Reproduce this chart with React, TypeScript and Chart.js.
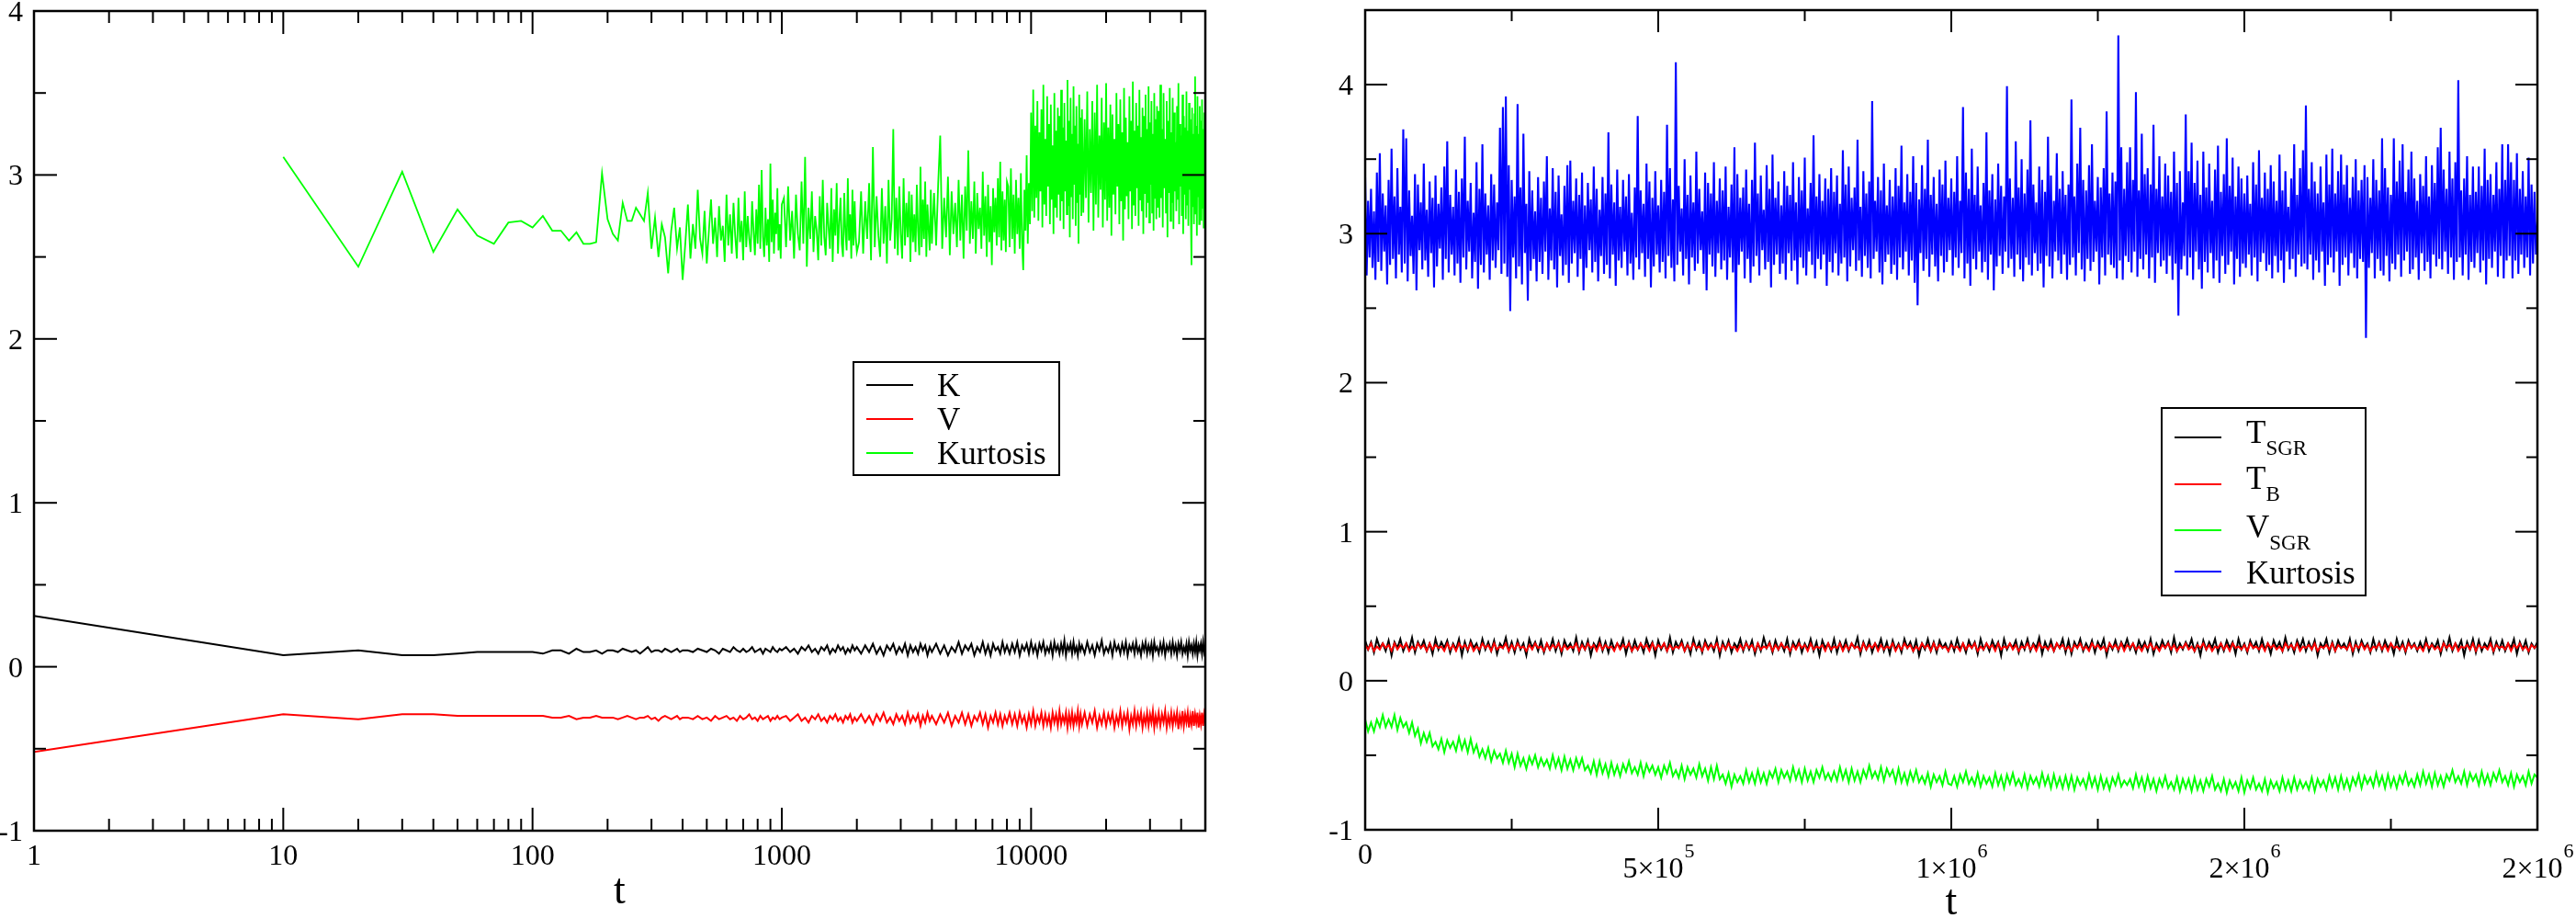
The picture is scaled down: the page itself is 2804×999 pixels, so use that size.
import React, { useEffect, useRef } from "react";
import { Chart, registerables } from "chart.js";

Chart.register(...registerables);

const SERIF = '"Liberation Serif", "Times New Roman", Times, "DejaVu Serif", serif';

// ================= LEFT PANEL DATA (log t axis) =================
// sampling grids of t: [start, end, step]
const T_SEGMENTS_KV: [number, number, number][] = [
  [1, 1, 1], [10, 400, 10], [420, 1000, 20], [1040, 2000, 40], [2080, 4000, 80],
  [4160, 8000, 160], [8200, 16000, 200], [16400, 32000, 400], [32500, 50000, 500],
];
const T_SEGMENTS_KURT: [number, number, number][] = [
  [10, 400, 10], [410, 1000, 10], [1020, 2000, 20], [2040, 4000, 40],
  [4080, 8000, 80], [8100, 16000, 100], [16200, 32000, 200], [32250, 50000, 250],
];

const K_LEFT: number[] = [
  0.31,
  0.07, 0.10, 0.07, 0.07, 0.08, 0.09, 0.09, 0.09, 0.09, 0.09, 0.08, 0.10, 0.10, 0.08, 0.11, 0.09, 0.09, 0.10, 0.08, 0.10,
  0.10, 0.09, 0.11, 0.10, 0.09, 0.10, 0.08, 0.10, 0.12, 0.09, 0.10, 0.10, 0.09, 0.11, 0.10, 0.09, 0.10, 0.11, 0.09, 0.10,
  0.10, 0.09, 0.11, 0.10, 0.09, 0.11, 0.10, 0.08, 0.11, 0.10, 0.09, 0.12, 0.10, 0.09, 0.11, 0.09, 0.10, 0.12, 0.09, 0.10,
  0.11, 0.08, 0.11, 0.10, 0.09, 0.12, 0.10, 0.09, 0.11, 0.10,
  0.12, 0.09, 0.11, 0.08, 0.12, 0.10, 0.13, 0.09, 0.11, 0.08, 0.12, 0.10, 0.13, 0.08, 0.11, 0.09, 0.13, 0.10, 0.12, 0.08,
  0.11, 0.09, 0.13, 0.10, 0.12,
  0.08, 0.13, 0.09, 0.14, 0.08, 0.12, 0.07, 0.13, 0.10, 0.14, 0.08, 0.12, 0.09, 0.14, 0.07, 0.13, 0.09, 0.12, 0.08, 0.14,
  0.10, 0.13, 0.07, 0.12, 0.09,
  0.14, 0.08, 0.13, 0.07, 0.12, 0.09, 0.15, 0.08, 0.13, 0.10, 0.14, 0.07, 0.12, 0.09, 0.15, 0.08, 0.13, 0.07, 0.14, 0.10,
  0.12, 0.08, 0.15, 0.09, 0.13,
  0.08, 0.14, 0.09, 0.15, 0.07, 0.13, 0.10, 0.14, 0.08, 0.15, 0.09, 0.13, 0.07, 0.14, 0.10, 0.15, 0.08, 0.12, 0.09, 0.14,
  0.07, 0.15, 0.10, 0.13, 0.08, 0.14, 0.09, 0.16, 0.07, 0.13, 0.10, 0.14, 0.08, 0.15, 0.09, 0.12, 0.07, 0.14, 0.10, 0.13,
  0.08, 0.15, 0.09, 0.13, 0.07, 0.14, 0.10, 0.16, 0.08, 0.12, 0.09, 0.14, 0.07, 0.15, 0.10, 0.13, 0.08, 0.14, 0.09, 0.15,
  0.07, 0.13, 0.10, 0.14, 0.08, 0.15, 0.09, 0.12, 0.07, 0.14, 0.10, 0.15, 0.08, 0.13, 0.09, 0.14, 0.07, 0.15, 0.10, 0.12,
  0.08, 0.14, 0.09, 0.15, 0.07, 0.13, 0.10, 0.14, 0.08, 0.15, 0.09, 0.13, 0.07, 0.14, 0.10, 0.15, 0.08, 0.12, 0.09, 0.14,
  0.07, 0.15, 0.10, 0.13, 0.08, 0.14, 0.09, 0.15, 0.07, 0.13, 0.10, 0.14, 0.08, 0.15, 0.09, 0.12,
];

const V_LEFT: number[] = [
  -0.52,
  -0.29, -0.32, -0.29, -0.29, -0.30, -0.30, -0.30, -0.30, -0.30, -0.30, -0.30, -0.31, -0.31, -0.30, -0.32, -0.31, -0.31, -0.30, -0.31, -0.31,
  -0.31, -0.32, -0.31, -0.30, -0.31, -0.32, -0.31, -0.31, -0.30, -0.32, -0.31, -0.33, -0.31, -0.30, -0.31, -0.32, -0.31, -0.30, -0.32, -0.31,
  -0.31, -0.32, -0.30, -0.32, -0.31, -0.33, -0.30, -0.32, -0.31, -0.30, -0.32, -0.31, -0.33, -0.30, -0.32, -0.31, -0.29, -0.32, -0.31, -0.33,
  -0.30, -0.32, -0.31, -0.30, -0.33, -0.31, -0.32, -0.30, -0.32, -0.31,
  -0.30, -0.33, -0.31, -0.29, -0.33, -0.31, -0.34, -0.30, -0.32, -0.29, -0.33, -0.31, -0.34, -0.30, -0.32, -0.29, -0.33, -0.31, -0.34, -0.30,
  -0.32, -0.29, -0.34, -0.31, -0.33,
  -0.29, -0.34, -0.30, -0.35, -0.29, -0.33, -0.28, -0.34, -0.31, -0.35, -0.29, -0.33, -0.30, -0.35, -0.28, -0.34, -0.30, -0.33, -0.29, -0.36,
  -0.30, -0.34, -0.28, -0.33, -0.30,
  -0.35, -0.29, -0.34, -0.28, -0.36, -0.30, -0.34, -0.28, -0.35, -0.29, -0.36, -0.30, -0.33, -0.28, -0.35, -0.29, -0.37, -0.30, -0.34, -0.28,
  -0.35, -0.29, -0.36, -0.30, -0.34,
  -0.28, -0.35, -0.29, -0.36, -0.28, -0.34, -0.30, -0.37, -0.29, -0.35, -0.27, -0.36, -0.30, -0.34, -0.28, -0.36, -0.29, -0.35, -0.30, -0.37,
  -0.28, -0.34, -0.29, -0.36, -0.27, -0.35, -0.30, -0.34, -0.28, -0.37, -0.29, -0.35, -0.28, -0.36, -0.30, -0.34, -0.27, -0.36, -0.29, -0.35,
  -0.28, -0.36, -0.29, -0.34, -0.27, -0.37, -0.30, -0.35, -0.28, -0.36, -0.29, -0.34, -0.28, -0.37, -0.30, -0.35, -0.27, -0.36, -0.29, -0.34,
  -0.28, -0.38, -0.30, -0.35, -0.27, -0.36, -0.29, -0.34, -0.28, -0.37, -0.30, -0.35, -0.28, -0.36, -0.29, -0.34, -0.27, -0.37, -0.30, -0.35,
  -0.28, -0.36, -0.29, -0.34, -0.27, -0.37, -0.30, -0.35, -0.28, -0.36, -0.29, -0.34, -0.28, -0.38, -0.30, -0.35, -0.27, -0.36, -0.29, -0.34,
  -0.28, -0.37, -0.30, -0.35, -0.27, -0.36, -0.29, -0.34, -0.28, -0.37, -0.30, -0.35, -0.28, -0.36, -0.29, -0.33,
];

const KURT_LEFT: number[] = [
  // t = 10 .. 400
  3.11, 2.44, 3.02, 2.53, 2.79, 2.63, 2.58, 2.71, 2.72, 2.68, 2.75, 2.66, 2.66, 2.60, 2.65, 2.58, 2.58, 2.59, 3.01, 2.73,
  2.64, 2.60, 2.83, 2.72, 2.72, 2.80, 2.76, 2.72, 2.89, 2.55, 2.74, 2.50, 2.70, 2.62, 2.40, 2.66, 2.80, 2.55, 2.68, 2.36,
  // t = 410 .. 1000
  2.58, 2.82, 2.49, 2.70, 2.55, 2.91, 2.61, 2.52, 2.78, 2.46, 2.66, 2.85, 2.58, 2.74, 2.50, 2.81, 2.60, 2.69, 2.47, 2.88,
  2.57, 2.76, 2.52, 2.83, 2.63, 2.49, 2.86, 2.59, 2.72, 2.48, 2.90, 2.56, 2.75, 2.61, 2.53, 2.84, 2.66, 2.51, 2.79, 2.58,
  2.94, 2.55, 3.03, 2.62, 2.50, 2.80, 2.57, 2.73, 2.47, 3.07, 2.59, 2.85, 2.52, 2.77, 2.64, 2.92, 2.54, 2.70, 2.49, 2.82,
  // t = 1020 .. 2000
  2.86, 2.56, 2.93, 2.60, 2.78, 2.49, 2.88, 2.64, 2.54, 2.96, 2.58, 3.11, 2.44, 2.80, 2.61, 2.90, 2.53, 2.75, 2.66, 2.48,
  2.87, 2.57, 2.97, 2.62, 2.51, 2.83, 2.68, 2.55, 2.92, 2.47, 2.79, 2.63, 2.95, 2.52, 2.71, 2.86, 2.58, 2.50, 2.89, 2.65,
  2.54, 2.98, 2.60, 2.76, 2.49, 2.91, 2.57, 2.84, 2.62, 2.53,
  // t = 2040 .. 4000
  2.59, 2.90, 2.52, 2.84, 2.61, 2.95, 2.48, 3.17, 2.56, 2.87, 2.63, 2.50, 2.92, 2.58, 2.81, 2.46, 2.97, 2.60, 2.73, 3.28,
  2.55, 2.86, 2.51, 2.93, 2.64, 2.49, 2.98, 2.57, 2.83, 2.62, 2.90, 2.47, 2.88, 2.59, 2.76, 2.53, 2.94, 2.66, 2.51, 3.05,
  2.56, 2.85, 2.61, 2.96, 2.50, 2.82, 2.67, 2.54, 2.91, 2.58,
  // t = 4080 .. 8000
  2.89, 2.57, 2.95, 3.24, 2.55, 2.86, 2.62, 2.99, 2.51, 2.90, 2.64, 2.83, 2.56, 2.97, 2.60, 2.88, 2.49, 2.93, 2.66, 3.15,
  2.58, 2.84, 2.61, 2.96, 2.52, 2.89, 2.67, 2.80, 2.55, 3.02, 2.63, 2.87, 2.50, 2.94, 2.59, 2.81, 2.45, 2.92, 2.65, 2.86,
  2.57, 2.98, 2.62, 3.08, 2.54, 2.90, 2.60, 2.85, 2.53, 2.96,
  // t = 8100 .. 16000
  2.93, 2.56, 3.04, 2.61, 2.88, 2.52, 2.97, 2.64, 2.86, 2.55, 3.01, 2.59, 2.42, 2.91, 2.66, 3.12, 2.58, 2.95, 2.70, 3.38,
  2.78, 3.52, 2.74, 3.30, 2.86, 3.45, 2.72, 3.26, 2.90, 3.40, 2.68, 3.55, 2.82, 3.22, 2.75, 3.48, 2.93, 3.31, 2.70, 3.43,
  2.85, 3.18, 2.64, 3.50, 2.80, 3.27, 2.74, 3.41, 2.88, 3.36, 2.72, 3.52, 2.84, 3.29, 2.67, 3.44, 2.90, 3.21, 2.76, 3.58,
  2.81, 3.33, 2.62, 3.47, 2.87, 3.25, 2.73, 3.54, 2.94, 3.30, 2.69, 3.42, 2.83, 3.19, 2.58, 3.49, 2.88, 3.35, 2.75, 3.40,
  // t = 16200 .. 32000
  2.77, 3.34, 2.86, 3.51, 2.71, 3.28, 2.89, 3.45, 2.66, 3.38, 2.82, 3.55, 2.74, 3.24, 2.91, 3.47, 2.68, 3.32, 2.85, 3.56,
  2.72, 3.29, 2.80, 3.43, 2.63, 3.37, 2.88, 3.22, 2.76, 3.50, 2.93, 3.31, 2.70, 3.46, 2.84, 3.26, 2.60, 3.53, 2.79, 3.35,
  2.87, 3.20, 2.73, 3.48, 2.90, 3.33, 2.67, 3.57, 2.82, 3.27, 2.75, 3.44, 2.92, 3.30, 2.69, 3.52, 2.85, 3.23, 2.78, 3.41,
  2.64, 3.36, 2.89, 3.49, 2.74, 3.28, 2.83, 3.54, 2.71, 3.32, 2.94, 3.45, 2.77, 3.25, 2.66, 3.50, 2.86, 3.34, 2.73, 3.42,
  // t = 32250 .. 50000
  2.80, 3.39, 2.74, 3.55, 2.86, 3.28, 2.68, 3.50, 2.92, 3.22, 2.77, 3.45, 2.62, 3.33, 2.89, 3.53, 2.72, 3.26, 2.83, 3.47,
  2.67, 3.38, 2.90, 3.20, 2.78, 3.42, 2.85, 3.56, 2.70, 3.31, 2.93, 3.24, 2.75, 3.49, 2.64, 3.36, 2.88, 3.29, 2.73, 3.51,
  2.82, 3.27, 2.69, 3.44, 2.91, 3.34, 2.76, 2.45, 3.41, 2.81, 3.25, 2.70, 3.37, 3.60, 2.76, 3.30, 2.63, 3.48, 2.87, 3.25,
  2.70, 3.42, 2.84, 3.33, 2.72, 3.46, 2.80, 3.28, 2.68, 3.38, 2.95, 3.20,
];

const LEFT_X_MAJOR = [1, 10, 100, 1000, 10000];
const LEFT_X_LABELS = ["1", "10", "100", "1000", "10000"];
const LEFT_X_MINOR = [
  2, 3, 4, 5, 6, 7, 8, 9,
  20, 30, 40, 50, 60, 70, 80, 90,
  200, 300, 400, 500, 600, 700, 800, 900,
  2000, 3000, 4000, 5000, 6000, 7000, 8000, 9000,
  20000, 30000, 40000,
];
const LEFT_Y_MAJOR = [-1, 0, 1, 2, 3, 4];
const LEFT_Y_LABELS = ["-1", "0", "1", "2", "3", "4"];
const LEFT_Y_MINOR = [-0.5, 0.5, 1.5, 2.5, 3.5];
const LEFT_LEGEND: [string, string][] = [["K", ""], ["V", ""], ["Kurtosis", ""]];

// ================= RIGHT PANEL DATA (linear t axis) =================
const RIGHT_STEP_KURT = 2500; // sampling step of the Kurtosis series
const RIGHT_STEP = 5000; // sampling step of the other series

const KURT_RIGHT: number[] = [
  3.38, 2.72, 3.22, 2.84, 3.30, 2.77, 3.15, 2.69, 3.41, 2.81, 3.54, 2.75, 3.27, 2.88, 3.19, 2.66, 3.36, 2.79, 3.57, 2.83,
  3.25, 2.70, 3.44, 2.86, 3.18, 2.74, 3.70, 2.80, 3.64, 2.68, 3.29, 2.85, 3.12, 2.73, 3.40, 2.62, 3.33, 2.89, 3.21, 2.76,
  3.47, 2.82, 3.16, 2.71, 3.35, 2.87, 3.24, 2.64, 3.39, 2.78, 3.20, 2.90, 3.31, 2.69, 3.45, 2.83, 3.62, 2.74, 3.26, 2.86,
  3.18, 2.72, 3.43, 2.80, 3.28, 2.67, 3.37, 2.84, 3.65, 2.76, 3.22, 2.88, 3.34, 2.70, 3.14, 2.81, 3.48, 2.63, 3.30, 2.79,
  3.60, 2.74, 3.27, 2.86, 3.19, 2.69, 3.40, 2.82, 3.33, 2.77, 3.21, 2.89, 3.71, 2.73, 3.85, 2.80, 3.92, 2.71, 3.46, 2.48,
  3.36, 2.84, 3.25, 2.70, 3.87, 2.78, 3.31, 2.66, 3.67, 2.87, 3.20, 2.55, 3.42, 2.75, 3.29, 2.83, 3.15, 2.68, 3.38, 2.81,
  3.24, 2.73, 3.35, 2.88, 3.52, 2.69, 3.17, 2.82, 3.44, 2.76, 3.28, 2.64, 3.39, 2.85, 3.13, 2.72, 3.32, 2.79, 3.46, 2.67,
  3.49, 2.80, 3.22, 2.87, 3.37, 2.71, 3.26, 2.83, 3.41, 2.62, 3.19, 2.77, 3.34, 2.89, 3.23, 2.74, 3.45, 2.81, 3.30, 2.68,
  3.16, 2.85, 3.38, 2.73, 3.27, 2.79, 3.68, 2.70, 3.33, 2.86, 3.21, 2.65, 3.43, 2.82, 3.18, 2.77, 3.36, 2.88, 3.25, 2.72,
  3.40, 2.80, 3.14, 2.69, 3.31, 2.84, 3.79, 2.76, 3.29, 2.87, 3.20, 2.71, 3.47, 2.83, 3.35, 2.64, 3.24, 2.78, 3.42, 2.86,
  3.19, 2.74, 3.36, 2.81, 3.28, 2.70, 3.73, 2.85, 3.44, 2.77, 3.23, 2.68, 4.15, 2.79, 3.32, 2.88, 3.17, 2.72, 3.50, 2.83,
  3.26, 2.66, 3.39, 2.84, 3.21, 2.75, 3.55, 2.80, 3.30, 2.89, 3.15, 2.73, 3.41, 2.62, 3.34, 2.86, 3.27, 2.78, 3.48, 2.71,
  3.22, 2.87, 3.37, 2.76, 3.29, 2.82, 3.45, 2.69, 3.18, 2.84, 3.33, 2.74, 3.58, 2.34, 3.40, 2.79, 3.24, 2.88, 3.31, 2.70,
  3.43, 2.83, 3.20, 2.67, 3.36, 2.78, 3.61, 2.85, 3.27, 2.72, 3.39, 2.89, 3.16, 2.76, 3.46, 2.81, 3.30, 2.64, 3.53, 2.79,
  3.24, 2.86, 3.35, 2.73, 3.19, 2.80, 3.42, 2.69, 3.32, 2.87, 3.26, 2.75, 3.48, 2.82, 3.21, 2.66, 3.38, 2.84, 3.29, 2.77,
  3.51, 2.72, 3.17, 2.88, 3.34, 2.79, 3.66, 2.70, 3.25, 2.83, 3.40, 2.76, 3.22, 2.86, 3.37, 2.65, 3.30, 2.81, 3.44, 2.74,
  3.28, 2.87, 3.39, 2.72, 3.20, 2.80, 3.56, 2.84, 3.33, 2.68, 3.45, 2.78, 3.24, 2.89, 3.31, 2.75, 3.63, 2.82, 3.18, 2.71,
  3.42, 2.85, 3.27, 2.77, 3.35, 2.70, 3.89, 2.83, 3.22, 2.88, 3.38, 2.74, 3.29, 2.66, 3.47, 2.81, 3.19, 2.86, 3.36, 2.73,
  3.25, 2.79, 3.44, 2.69, 3.32, 2.84, 3.59, 2.76, 3.21, 2.88, 3.40, 2.72, 3.28, 2.82, 3.52, 2.67, 3.34, 2.52, 3.23, 2.87,
  3.46, 2.75, 3.30, 2.83, 3.63, 2.71, 3.26, 2.86, 3.38, 2.78, 3.20, 2.68, 3.43, 2.85, 3.33, 2.74, 3.49, 2.81, 3.24, 2.89,
  3.37, 2.72, 3.28, 2.84, 3.52, 2.77, 3.22, 2.87, 3.85, 2.70, 3.41, 2.80, 3.30, 2.65, 3.57, 2.83, 3.26, 2.76, 3.45, 2.88,
  3.19, 2.74, 3.34, 2.81, 3.68, 2.69, 3.29, 2.86, 3.40, 2.62, 3.23, 2.78, 3.47, 2.85, 3.32, 2.73, 3.25, 2.88, 3.99, 2.77,
  3.37, 2.83, 3.24, 2.71, 3.62, 2.86, 3.31, 2.76, 3.50, 2.68, 3.27, 2.84, 3.43, 2.79, 3.76, 2.72, 3.33, 2.87, 3.21, 2.75,
  3.45, 2.80, 3.36, 2.64, 3.28, 2.85, 3.65, 2.78, 3.39, 2.70, 3.22, 2.88, 3.54, 2.82, 3.30, 2.73, 3.42, 2.86, 3.26, 2.69,
  3.33, 2.79, 3.90, 2.84, 3.25, 2.72, 3.47, 2.87, 3.71, 2.76, 3.36, 2.68, 3.29, 2.83, 3.46, 2.75, 3.60, 2.81, 3.22, 2.88,
  3.38, 2.66, 3.31, 2.84, 3.44, 2.72, 3.82, 2.86, 3.27, 2.79, 3.41, 2.77, 3.35, 2.70, 4.33, 2.82, 3.58, 2.69, 3.30, 2.85,
  3.48, 2.81, 3.58, 2.74, 3.36, 2.88, 3.95, 2.71, 3.29, 2.83, 3.67, 2.76, 3.40, 2.86, 3.44, 2.70, 3.33, 2.84, 3.73, 2.67,
  3.30, 2.87, 3.52, 2.78, 3.25, 2.82, 3.47, 2.73, 3.39, 2.85, 3.28, 2.69, 3.55, 2.80, 3.34, 2.45, 3.42, 2.76, 3.21, 2.85,
  3.80, 2.72, 3.42, 2.84, 3.61, 2.69, 3.34, 2.88, 3.49, 2.76, 3.26, 2.63, 3.55, 2.81, 3.31, 2.74, 3.47, 2.87, 3.22, 2.70,
  3.43, 2.82, 3.59, 2.67, 3.28, 2.85, 3.40, 2.73, 3.64, 2.79, 3.32, 2.88, 3.51, 2.66, 3.25, 2.83, 3.45, 2.71, 3.37, 2.80,
  3.27, 2.77, 3.39, 2.86, 3.20, 2.72, 3.48, 2.84, 3.33, 2.68, 3.56, 2.81, 3.24, 2.87, 3.41, 2.75, 3.30, 2.79, 3.46, 2.70,
  3.35, 2.85, 3.22, 2.74, 3.53, 2.82, 3.29, 2.67, 3.42, 2.88, 3.18, 2.76, 3.37, 2.83, 3.60, 2.71, 3.26, 2.86, 3.44, 2.78,
  3.56, 2.80, 3.86, 2.76, 3.30, 2.86, 3.48, 2.69, 3.35, 2.82, 3.27, 2.74, 3.45, 2.88, 3.21, 2.65, 3.53, 2.79, 3.33, 2.84,
  3.57, 2.74, 3.27, 2.88, 3.42, 2.65, 3.53, 2.79, 3.33, 2.84, 3.46, 2.72, 3.24, 2.87, 3.38, 2.77, 3.50, 2.70, 3.29, 2.83,
  3.36, 2.81, 3.46, 2.30, 3.38, 2.77, 3.24, 2.87, 3.50, 2.70, 3.36, 2.83, 3.29, 2.75, 3.64, 2.72, 3.44, 2.85, 3.31, 2.68,
  3.26, 2.80, 3.64, 2.76, 3.35, 2.86, 3.49, 2.71, 3.60, 2.82, 3.28, 2.88, 3.43, 2.73, 3.55, 2.76, 3.37, 2.84, 3.22, 2.69,
  3.40, 2.87, 3.32, 2.75, 3.52, 2.81, 3.25, 2.70, 3.46, 2.86, 3.34, 2.78, 3.58, 2.83, 3.71, 2.76, 3.43, 2.88, 3.30, 2.73,
  3.55, 2.84, 3.37, 2.69, 3.48, 2.81, 4.03, 2.84, 3.29, 2.72, 3.37, 2.86, 3.52, 2.69, 3.26, 2.81, 3.45, 2.77, 3.28, 2.87,
  3.45, 2.74, 3.32, 2.82, 3.57, 2.66, 3.36, 2.83, 3.40, 2.77, 3.26, 2.88, 3.48, 2.71, 3.30, 2.85, 3.60, 2.70, 3.36, 2.82,
  3.60, 2.85, 3.48, 2.70, 3.36, 2.82, 3.54, 2.73, 3.30, 2.86, 3.42, 2.77, 3.25, 2.84, 3.51, 2.72, 3.33, 2.80, 3.28, 2.86,
  3.08,
];

const TSGR_RIGHT: number[] = [
  0.27, 0.21, 0.26, 0.19, 0.28, 0.22, 0.25, 0.20, 0.27, 0.17, 0.26, 0.22, 0.28, 0.20, 0.25, 0.21, 0.29, 0.19, 0.26, 0.22,
  0.27, 0.20, 0.25, 0.18, 0.28, 0.21, 0.26, 0.22, 0.27, 0.19, 0.25, 0.21, 0.28, 0.17, 0.26, 0.20, 0.27, 0.22, 0.25, 0.19,
  0.28, 0.21, 0.26, 0.20, 0.27, 0.18, 0.25, 0.22, 0.29, 0.20, 0.26, 0.19, 0.27, 0.21, 0.25, 0.17, 0.28, 0.22, 0.26, 0.20,
  0.27, 0.19, 0.25, 0.21, 0.28, 0.20, 0.26, 0.18, 0.27, 0.22, 0.25, 0.20, 0.29, 0.19, 0.26, 0.21, 0.27, 0.17, 0.25, 0.22,
  0.28, 0.20, 0.26, 0.19, 0.27, 0.21, 0.25, 0.22, 0.28, 0.18, 0.26, 0.20, 0.27, 0.21, 0.25, 0.19, 0.28, 0.22, 0.26, 0.17,
  0.27, 0.21, 0.25, 0.20, 0.29, 0.19, 0.26, 0.22, 0.27, 0.20, 0.25, 0.18, 0.28, 0.21, 0.26, 0.19, 0.27, 0.22, 0.25, 0.20,
  0.28, 0.17, 0.26, 0.21, 0.27, 0.19, 0.25, 0.22, 0.28, 0.20, 0.26, 0.21, 0.27, 0.18, 0.25, 0.20, 0.29, 0.22, 0.26, 0.19,
  0.27, 0.21, 0.25, 0.20, 0.28, 0.18, 0.26, 0.22, 0.27, 0.19, 0.25, 0.21, 0.28, 0.20, 0.26, 0.17, 0.27, 0.22, 0.25, 0.20,
  0.28, 0.19, 0.26, 0.21, 0.27, 0.20, 0.25, 0.22, 0.29, 0.18, 0.26, 0.21, 0.27, 0.19, 0.25, 0.22, 0.28, 0.20, 0.26, 0.18,
  0.27, 0.21, 0.25, 0.19, 0.28, 0.22, 0.26, 0.20, 0.27, 0.17, 0.25, 0.21, 0.28, 0.20, 0.26, 0.19, 0.27, 0.22, 0.25, 0.20,
  0.26, 0.20, 0.28, 0.21, 0.25, 0.19, 0.27, 0.22, 0.26, 0.18, 0.28, 0.21, 0.25, 0.20, 0.27, 0.22, 0.26, 0.17, 0.28, 0.21,
  0.25, 0.22, 0.27, 0.19, 0.26, 0.21, 0.28, 0.20, 0.25, 0.22, 0.29, 0.18, 0.26, 0.21, 0.27, 0.20, 0.25, 0.22, 0.28, 0.19,
  0.27, 0.18, 0.26, 0.22, 0.28, 0.20, 0.25, 0.21, 0.27, 0.19, 0.26, 0.22, 0.28, 0.17, 0.25, 0.21, 0.27, 0.20, 0.26, 0.22,
  0.28, 0.21, 0.25, 0.19, 0.27, 0.22, 0.26, 0.20, 0.28, 0.18, 0.25, 0.21, 0.27, 0.22, 0.26, 0.19, 0.29, 0.20, 0.25, 0.21,
  0.26, 0.22, 0.28, 0.20, 0.25, 0.17, 0.27, 0.21, 0.26, 0.22, 0.28, 0.19, 0.25, 0.20, 0.27, 0.22, 0.26, 0.18, 0.28, 0.21,
  0.25, 0.19, 0.27, 0.22, 0.26, 0.20, 0.28, 0.21, 0.25, 0.18, 0.27, 0.22, 0.26, 0.20, 0.29, 0.21, 0.25, 0.19, 0.27, 0.22,
  0.28, 0.20, 0.26, 0.21, 0.27, 0.17, 0.25, 0.22, 0.28, 0.19, 0.26, 0.20, 0.27, 0.22, 0.25, 0.21, 0.28, 0.18, 0.26, 0.20,
  0.27, 0.22, 0.25, 0.19, 0.28, 0.21, 0.26, 0.20, 0.27, 0.22, 0.25, 0.18, 0.28, 0.21, 0.26, 0.19, 0.27, 0.22, 0.25, 0.20,
  0.26, 0.21, 0.28, 0.20, 0.25, 0.22, 0.27, 0.18, 0.26, 0.21, 0.29, 0.20, 0.25, 0.22, 0.27, 0.17, 0.26, 0.21, 0.28, 0.19,
  0.27, 0.20, 0.25, 0.22, 0.28, 0.19, 0.26, 0.21, 0.27, 0.20, 0.25, 0.22, 0.28, 0.18, 0.26, 0.21, 0.27, 0.19, 0.25, 0.22,
  0.26,
];

const TB_RIGHT: number[] = [
  0.24, 0.21, 0.25, 0.20, 0.23, 0.21, 0.25, 0.22, 0.24, 0.20, 0.25, 0.21, 0.24, 0.22, 0.25, 0.20, 0.23, 0.21, 0.25, 0.22,
  0.24, 0.20, 0.25, 0.21, 0.24, 0.22, 0.23, 0.20, 0.25, 0.21, 0.24, 0.20, 0.25, 0.22, 0.24, 0.21, 0.25, 0.20, 0.23, 0.21,
  0.25, 0.22, 0.24, 0.20, 0.25, 0.21, 0.23, 0.22, 0.25, 0.20, 0.24, 0.21, 0.25, 0.22, 0.23, 0.20, 0.24, 0.21, 0.25, 0.22,
  0.23, 0.20, 0.25, 0.21, 0.24, 0.22, 0.25, 0.20, 0.24, 0.21, 0.23, 0.22, 0.25, 0.20, 0.24, 0.21, 0.25, 0.22, 0.24, 0.20,
  0.25, 0.21, 0.24, 0.22, 0.23, 0.20, 0.25, 0.21, 0.24, 0.22, 0.25, 0.20, 0.23, 0.21, 0.25, 0.22, 0.24, 0.20, 0.25, 0.21,
  0.24, 0.22, 0.25, 0.20, 0.24, 0.21, 0.23, 0.22, 0.25, 0.20, 0.24, 0.21, 0.25, 0.22, 0.23, 0.20, 0.25, 0.21, 0.24, 0.22,
  0.25, 0.20, 0.24, 0.21, 0.25, 0.22, 0.23, 0.20, 0.24, 0.21, 0.25, 0.22, 0.24, 0.20, 0.25, 0.21, 0.23, 0.22, 0.25, 0.20,
  0.24, 0.21, 0.25, 0.22, 0.23, 0.20, 0.24, 0.21, 0.25, 0.22, 0.24, 0.20, 0.25, 0.21, 0.23, 0.22, 0.24, 0.20, 0.25, 0.21,
  0.23, 0.22, 0.25, 0.20, 0.24, 0.21, 0.25, 0.22, 0.23, 0.20, 0.25, 0.21, 0.24, 0.22, 0.25, 0.20, 0.24, 0.21, 0.23, 0.22,
  0.25, 0.20, 0.24, 0.21, 0.25, 0.22, 0.24, 0.20, 0.23, 0.21, 0.25, 0.22, 0.24, 0.20, 0.25, 0.21, 0.24, 0.22, 0.23, 0.20,
  0.24, 0.22, 0.23, 0.20, 0.25, 0.21, 0.24, 0.22, 0.25, 0.20, 0.23, 0.21, 0.25, 0.22, 0.24, 0.20, 0.25, 0.21, 0.23, 0.22,
  0.25, 0.21, 0.24, 0.20, 0.23, 0.22, 0.25, 0.21, 0.24, 0.20, 0.25, 0.22, 0.23, 0.21, 0.24, 0.20, 0.25, 0.22, 0.24, 0.21,
  0.23, 0.20, 0.24, 0.22, 0.25, 0.21, 0.23, 0.20, 0.25, 0.22, 0.24, 0.21, 0.23, 0.20, 0.25, 0.22, 0.24, 0.21, 0.25, 0.20,
  0.24, 0.22, 0.25, 0.21, 0.23, 0.20, 0.24, 0.22, 0.25, 0.21, 0.23, 0.20, 0.24, 0.22, 0.25, 0.21, 0.24, 0.20, 0.23, 0.22,
  0.25, 0.21, 0.23, 0.20, 0.24, 0.22, 0.25, 0.21, 0.24, 0.20, 0.23, 0.22, 0.25, 0.21, 0.24, 0.20, 0.25, 0.22, 0.23, 0.21,
  0.24, 0.20, 0.25, 0.22, 0.23, 0.21, 0.24, 0.20, 0.25, 0.22, 0.24, 0.21, 0.23, 0.20, 0.25, 0.22, 0.24, 0.21, 0.25, 0.20,
  0.23, 0.22, 0.24, 0.21, 0.25, 0.20, 0.23, 0.22, 0.24, 0.21, 0.25, 0.20, 0.24, 0.22, 0.23, 0.21, 0.25, 0.20, 0.24, 0.22,
  0.25, 0.21, 0.24, 0.20, 0.23, 0.22, 0.25, 0.21, 0.24, 0.20, 0.25, 0.22, 0.23, 0.21, 0.24, 0.20, 0.25, 0.22, 0.24, 0.21,
  0.23, 0.20, 0.25, 0.22, 0.24, 0.21, 0.23, 0.20, 0.25, 0.22, 0.24, 0.21, 0.25, 0.20, 0.23, 0.22, 0.24, 0.21, 0.25, 0.20,
  0.24, 0.22, 0.23, 0.21, 0.25, 0.20, 0.24, 0.22, 0.23, 0.21, 0.25, 0.20, 0.24, 0.22, 0.25, 0.21, 0.23, 0.20, 0.24, 0.22,
  0.24,
];

const VSGR_RIGHT: number[] = [
  -0.26, -0.34, -0.28, -0.34, -0.26, -0.31, -0.23, -0.31, -0.26, -0.31, -0.23, -0.33, -0.25, -0.31, -0.28, -0.35, -0.28, -0.37, -0.32, -0.42,
  -0.35, -0.41, -0.35, -0.44, -0.41, -0.46, -0.39, -0.48, -0.40, -0.45, -0.41, -0.47, -0.38, -0.46, -0.40, -0.48, -0.39, -0.48, -0.43, -0.51,
  -0.46, -0.52, -0.45, -0.54, -0.47, -0.52, -0.49, -0.55, -0.47, -0.55, -0.49, -0.58, -0.49, -0.57, -0.52, -0.59, -0.51, -0.56, -0.50, -0.58,
  -0.52, -0.57, -0.53, -0.59, -0.50, -0.58, -0.52, -0.60, -0.51, -0.59, -0.53, -0.60, -0.52, -0.58, -0.52, -0.60, -0.57, -0.62, -0.54, -0.63,
  -0.54, -0.62, -0.56, -0.64, -0.55, -0.63, -0.57, -0.64, -0.56, -0.61, -0.54, -0.62, -0.58, -0.63, -0.55, -0.64, -0.56, -0.61, -0.57, -0.63,
  -0.58, -0.65, -0.57, -0.62, -0.55, -0.64, -0.60, -0.65, -0.57, -0.66, -0.58, -0.63, -0.59, -0.65, -0.56, -0.64, -0.59, -0.67, -0.58, -0.66,
  -0.57, -0.66, -0.63, -0.69, -0.62, -0.71, -0.63, -0.68, -0.64, -0.69, -0.60, -0.68, -0.62, -0.69, -0.60, -0.68, -0.62, -0.69, -0.61, -0.65,
  -0.59, -0.68, -0.60, -0.65, -0.61, -0.67, -0.58, -0.66, -0.60, -0.68, -0.59, -0.67, -0.61, -0.68, -0.60, -0.65, -0.58, -0.66, -0.62, -0.67,
  -0.61, -0.67, -0.58, -0.66, -0.60, -0.68, -0.59, -0.67, -0.61, -0.68, -0.60, -0.65, -0.57, -0.65, -0.61, -0.66, -0.58, -0.67, -0.59, -0.64,
  -0.60, -0.68, -0.59, -0.68, -0.62, -0.69, -0.61, -0.67, -0.60, -0.68, -0.64, -0.69, -0.62, -0.71, -0.63, -0.68, -0.64, -0.70, -0.61, -0.69,
  -0.70, -0.64, -0.71, -0.63, -0.68, -0.61, -0.69, -0.65, -0.70, -0.62, -0.71, -0.64, -0.69, -0.65, -0.71, -0.62, -0.70, -0.64, -0.72, -0.63,
  -0.69, -0.62, -0.70, -0.66, -0.71, -0.63, -0.72, -0.64, -0.69, -0.65, -0.71, -0.62, -0.70, -0.64, -0.72, -0.63, -0.71, -0.65, -0.72, -0.64,
  -0.72, -0.64, -0.73, -0.65, -0.70, -0.66, -0.72, -0.63, -0.71, -0.65, -0.73, -0.64, -0.72, -0.66, -0.73, -0.65, -0.70, -0.63, -0.71, -0.67,
  -0.70, -0.66, -0.72, -0.63, -0.71, -0.65, -0.73, -0.64, -0.72, -0.66, -0.74, -0.66, -0.71, -0.64, -0.72, -0.68, -0.73, -0.65, -0.74, -0.66,
  -0.72, -0.66, -0.74, -0.65, -0.73, -0.67, -0.74, -0.66, -0.71, -0.64, -0.73, -0.69, -0.74, -0.66, -0.75, -0.67, -0.72, -0.68, -0.74, -0.65,
  -0.75, -0.67, -0.72, -0.65, -0.73, -0.69, -0.74, -0.66, -0.75, -0.67, -0.72, -0.68, -0.74, -0.65, -0.73, -0.67, -0.74, -0.65, -0.73, -0.67,
  -0.72, -0.68, -0.73, -0.65, -0.74, -0.66, -0.71, -0.67, -0.73, -0.64, -0.71, -0.65, -0.73, -0.64, -0.72, -0.66, -0.73, -0.65, -0.70, -0.63,
  -0.72, -0.64, -0.69, -0.65, -0.71, -0.62, -0.70, -0.64, -0.72, -0.63, -0.71, -0.65, -0.72, -0.64, -0.69, -0.62, -0.70, -0.66, -0.71, -0.63,
  -0.70, -0.61, -0.69, -0.63, -0.71, -0.62, -0.70, -0.64, -0.71, -0.63, -0.67, -0.60, -0.68, -0.64, -0.69, -0.61, -0.70, -0.62, -0.67, -0.63,
  -0.70, -0.61, -0.69, -0.63, -0.70, -0.62, -0.67, -0.60, -0.68, -0.64, -0.70, -0.62, -0.71, -0.63, -0.68, -0.64, -0.70, -0.61, -0.69, -0.63,
  -0.65,
];

const RIGHT_X_MAJOR = [0, 500000, 1000000, 1500000, 2000000];
const RIGHT_X_LABELS: [string, string][] = [["0", ""], ["5×10", "5"], ["1×10", "6"], ["2×10", "6"], ["2×10", "6"]];
const RIGHT_X_MINOR = [250000, 750000, 1250000, 1750000];
const RIGHT_Y_MAJOR = [-1, 0, 1, 2, 3, 4];
const RIGHT_Y_LABELS = ["-1", "0", "1", "2", "3", "4"];
const RIGHT_Y_MINOR = [-0.5, 0.5, 1.5, 2.5, 3.5];
const RIGHT_LEGEND: [string, string][] = [["T", "SGR"], ["T", "B"], ["V", "SGR"], ["Kurtosis", ""]];

// ================= helpers =================
function buildGrid(segs: [number, number, number][]): number[] {
  const out: number[] = [];
  for (const [a, b, s] of segs) for (let t = a; t <= b; t += s) out.push(t);
  return out;
}

function stepGrid(n: number, step: number) {
  const out: number[] = [];
  for (let i = 0; i < n; i++) out.push(i * step);
  return out;
}

function pts(xs: number[], ys: number[]) {
  const out: { x: number; y: number }[] = [];
  const n = Math.min(xs.length, ys.length);
  for (let i = 0; i < n; i++) out.push({ x: xs[i], y: ys[i] });
  return out;
}

type Decor = {
  xMajor: number[];
  xMinor: number[];
  yMajor: number[];
  yMinor: number[];
  xLabels: [string, string][];
  yLabels: string[];
  majorLen: number;
  minorLen: number;
  xBase: number;
  xSupMainBase: number;
  xSupBase: number;
  titleBase: number;
  yGap: number;
  legend: {
    box: [number, number, number, number];
    line: [number, number];
    textX: number;
    rows: number[];
    baseOff: number[];
    labels: [string, string][];
  };
};

function drawDecor(chart: any, d: Decor) {
  const ctx: CanvasRenderingContext2D = chart.ctx;
  const a = chart.chartArea;
  const xs = chart.scales.x;
  const ys = chart.scales.y;
  ctx.save();
  ctx.strokeStyle = "#000";
  ctx.fillStyle = "#000";
  ctx.lineCap = "butt";
  const seg = (x1: number, y1: number, x2: number, y2: number) => {
    ctx.beginPath();
    ctx.moveTo(x1, y1);
    ctx.lineTo(x2, y2);
    ctx.stroke();
  };
  ctx.lineWidth = 2;
  const xTick = (v: number, len: number) => {
    const px = xs.getPixelForValue(v);
    seg(px, a.bottom, px, a.bottom - len);
    seg(px, a.top, px, a.top + len);
  };
  const yTick = (v: number, len: number) => {
    const py = ys.getPixelForValue(v);
    seg(a.left, py, a.left + len, py);
    seg(a.right, py, a.right - len, py);
  };
  d.xMinor.forEach((v) => xTick(v, d.minorLen));
  d.xMajor.forEach((v) => xTick(v, d.majorLen));
  d.yMinor.forEach((v) => yTick(v, d.minorLen));
  d.yMajor.forEach((v) => yTick(v, d.majorLen));

  ctx.lineWidth = 2.5;
  ctx.strokeRect(a.left, a.top, a.right - a.left, a.bottom - a.top);

  const MAIN = `32px ${SERIF}`;
  const SUP = `22px ${SERIF}`;
  ctx.textBaseline = "alphabetic";
  ctx.font = MAIN;
  ctx.textAlign = "right";
  d.yMajor.forEach((v, i) => {
    ctx.fillText(d.yLabels[i], a.left - d.yGap, ys.getPixelForValue(v) + 11);
  });
  ctx.textAlign = "left";
  d.xMajor.forEach((v, i) => {
    const [main, sup] = d.xLabels[i];
    const px = xs.getPixelForValue(v);
    ctx.font = MAIN;
    const wm = ctx.measureText(main).width;
    ctx.font = SUP;
    const ws = sup ? ctx.measureText(sup).width : 0;
    const x0 = px - (wm + ws) / 2;
    ctx.font = MAIN;
    ctx.fillText(main, x0, sup ? d.xSupMainBase : d.xBase);
    if (sup) {
      ctx.font = SUP;
      ctx.fillText(sup, x0 + wm + 1, d.xSupBase);
    }
  });
  ctx.font = `46px ${SERIF}`;
  ctx.textAlign = "center";
  ctx.fillText("t", (a.left + a.right) / 2, d.titleBase);

  const L = d.legend;
  ctx.fillStyle = "#fff";
  ctx.fillRect(L.box[0], L.box[1], L.box[2], L.box[3]);
  ctx.strokeStyle = "#000";
  ctx.lineWidth = 2;
  ctx.strokeRect(L.box[0], L.box[1], L.box[2], L.box[3]);
  ctx.textAlign = "left";
  L.labels.forEach(([main, sub], i) => {
    const ds = chart.data.datasets[i];
    const y = L.rows[i];
    ctx.strokeStyle = ds.borderColor;
    ctx.lineWidth = 2;
    seg(L.line[0], y, L.line[1], y);
    ctx.fillStyle = "#000";
    ctx.font = `35px ${SERIF}`;
    const base = y + L.baseOff[i];
    ctx.fillText(main, L.textX, base);
    if (sub) {
      const w = ctx.measureText(main).width;
      ctx.font = `23px ${SERIF}`;
      ctx.fillText(sub, L.textX + w, base + 13);
    }
  });
  ctx.restore();
}

const COMMON_OPTIONS = {
  responsive: false,
  animation: false,
  devicePixelRatio: 1,
  events: [],
  plugins: { legend: { display: false }, tooltip: { enabled: false } },
};

function makeLeftConfig(): any {
  const tKV = buildGrid(T_SEGMENTS_KV);
  const tK = buildGrid(T_SEGMENTS_KURT);
  const decor: Decor = {
    xMajor: LEFT_X_MAJOR,
    xMinor: LEFT_X_MINOR,
    yMajor: LEFT_Y_MAJOR,
    yMinor: LEFT_Y_MINOR,
    xLabels: LEFT_X_LABELS.map((s) => [s, ""] as [string, string]),
    yLabels: LEFT_Y_LABELS,
    majorLen: 25,
    minorLen: 13,
    xBase: 941,
    xSupMainBase: 956,
    xSupBase: 933,
    titleBase: 983,
    yGap: 12,
    legend: {
      box: [929, 394, 224, 123],
      line: [943, 994],
      textX: 1020,
      rows: [419, 456, 493],
      baseOff: [12, 12, 12],
      labels: LEFT_LEGEND,
    },
  };
  return {
    type: "line",
    data: {
      datasets: [
        { label: "K", data: pts(tKV, K_LEFT), borderColor: "#000000" },
        { label: "V", data: pts(tKV, V_LEFT), borderColor: "#ff0000" },
        { label: "Kurtosis", data: pts(tK, KURT_LEFT), borderColor: "#00ff00", borderWidth: 1.8 },
      ],
    },
    options: {
      ...COMMON_OPTIONS,
      layout: { padding: { left: 37, right: 88, top: 12, bottom: 95 } },
      elements: { point: { radius: 0 }, line: { tension: 0, borderWidth: 2, fill: false } },
      scales: {
        x: { type: "logarithmic", min: 1, max: 50000, display: false },
        y: { type: "linear", min: -1, max: 4, display: false },
      },
    },
    plugins: [{ id: "decorLeft", afterDraw: (c: any) => drawDecor(c, decor) }],
  };
}

function makeRightConfig(): any {
  const tK = stepGrid(KURT_RIGHT.length, RIGHT_STEP_KURT);
  const t = stepGrid(TSGR_RIGHT.length, RIGHT_STEP);
  const decor: Decor = {
    xMajor: RIGHT_X_MAJOR,
    xMinor: RIGHT_X_MINOR,
    yMajor: RIGHT_Y_MAJOR,
    yMinor: RIGHT_Y_MINOR,
    xLabels: RIGHT_X_LABELS,
    yLabels: RIGHT_Y_LABELS,
    majorLen: 24,
    minorLen: 12,
    xBase: 940,
    xSupMainBase: 955,
    xSupBase: 933,
    titleBase: 995,
    yGap: 13,
    legend: {
      box: [953, 444, 222, 204],
      line: [967, 1018],
      textX: 1045,
      rows: [476, 527, 577, 622],
      baseOff: [6, 5, 8, 13],
      labels: RIGHT_LEGEND,
    },
  };
  return {
    type: "line",
    data: {
      datasets: [
        { label: "T_SGR", data: pts(t, TSGR_RIGHT), borderColor: "#000000", order: 3 },
        { label: "T_B", data: pts(t, TB_RIGHT), borderColor: "#ff0000", order: 2 },
        { label: "V_SGR", data: pts(t, VSGR_RIGHT), borderColor: "#00ff00", order: 1 },
        { label: "Kurtosis", data: pts(tK, KURT_RIGHT), borderColor: "#0000ff", order: 0, borderWidth: 2.1 },
      ],
    },
    options: {
      ...COMMON_OPTIONS,
      layout: { padding: { left: 86, right: 42, top: 11, bottom: 96 } },
      elements: { point: { radius: 0 }, line: { tension: 0, borderWidth: 2, fill: false } },
      scales: {
        x: { type: "linear", min: 0, max: 2000000, display: false },
        y: { type: "linear", min: -1, max: 4.5, display: false },
      },
    },
    plugins: [{ id: "decorRight", afterDraw: (c: any) => drawDecor(c, decor) }],
  };
}

function Panel({ left, width, make }: { left: number; width: number; make: () => any }) {
  const ref = useRef<HTMLCanvasElement>(null);
  useEffect(() => {
    const chart = new Chart(ref.current as HTMLCanvasElement, make());
    let alive = true;
    const fonts: any = (document as any).fonts;
    if (fonts && fonts.load) {
      Promise.all([
        fonts.load('32px "Liberation Serif"'),
        fonts.load('22px "Liberation Serif"'),
      ])
        .catch(() => null)
        .then(() => {
          if (alive) chart.update("none");
        });
    }
    return () => {
      alive = false;
      chart.destroy();
    };
  }, []);
  return (
    <canvas
      ref={ref}
      width={width}
      height={999}
      style={{ position: "absolute", left, top: 0, width, height: 999, display: "block" }}
    />
  );
}

export default function App() {
  return (
    <div
      style={{
        position: "absolute",
        left: 0,
        top: 0,
        width: 2804,
        height: 999,
        background: "#ffffff",
        overflow: "hidden",
      }}
    >
      <span style={{ position: "absolute", left: -9999, top: 0, fontFamily: SERIF, fontSize: 32 }}>
        0123456789 Kurtosis t
      </span>
      <Panel left={0} width={1400} make={makeLeftConfig} />
      <Panel left={1400} width={1404} make={makeRightConfig} />
    </div>
  );
}
